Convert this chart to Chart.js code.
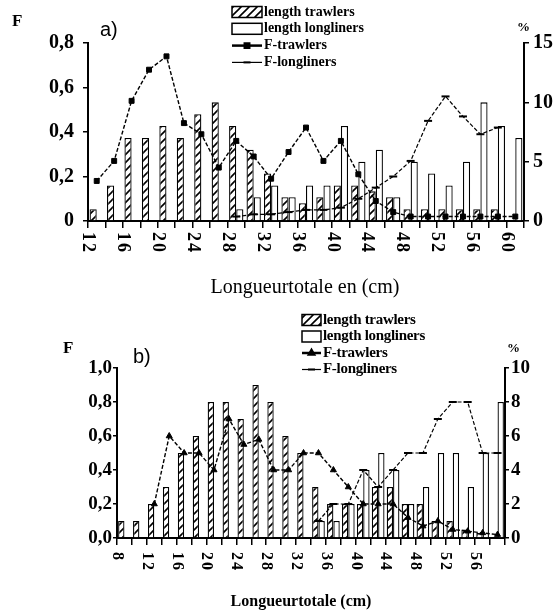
<!DOCTYPE html>
<html>
<head>
<meta charset="utf-8">
<script src="https://cdn.jsdelivr.net/npm/chart.js@4.4.0/dist/chart.umd.min.js"></script>
<style>
  html, body { margin: 0; padding: 0; background: #fff; }
  .wrap { position: absolute; left: 0; width: 557px; }
  #wrapA { top: 0; height: 300px; }
  #wrapB { top: 300px; height: 315px; }
</style>
</head>
<body>
<div class="wrap" id="wrapA"><canvas id="chartA"></canvas></div>
<div class="wrap" id="wrapB"><canvas id="chartB"></canvas></div>
<script>
// ---- a) ----
const lengthsA = [12,14,16,18,20,22,24,26,28,30,32,34,36,38,40,42,44,46,48,50,52,54,56,58,60];
const tickLabelsA = ['12','16','20','24','28','32','36','40','44','48','52','56','60'];
const trawlA = [1,3,7,7,8,7,9,10,8,6,4,2,1.5,2,3,3,2.5,2,1,1,1,1,1,1,0];
const longA  = [0,0,0,0,0,0,0,0,1,2,3,2,3,3,8,5,6,2,5,4,3,5,10,8,7];
const fTrawlA = [0.18,0.27,0.54,0.68,0.74,0.44,0.39,0.24,0.36,0.29,0.19,0.31,0.42,0.27,0.36,0.21,0.09,0.04,0.02,0.02,0.02,0.02,0.02,0.02,0.02];
const fLongA  = [null,null,null,null,null,null,null,null,0.02,0.03,0.03,0.04,0.05,0.05,0.06,0.1,0.15,0.2,0.27,0.45,0.56,0.47,0.39,0.42,null];

// ---- b) ----
const lengthsB = [8,10,12,14,16,18,20,22,24,26,28,30,32,34,36,38,40,42,44,46,48,50,52,54,56,58];
const tickLabelsB = ['8','12','16','20','24','28','32','36','40','44','48','52','56'];
const trawlB = [1,1,2,3,5,6,8,8,7,9,8,6,5,3,2,2,2,3,3,2,2,1,1,0.5,0.3,0];
const longB  = [0,0,0,0,0,0,0,0,0,0,0,0,0,1,1,2,4,5,4,2,3,5,5,3,5,8];
const fTrawlB = [null,null,0.2,0.6,0.5,0.5,0.4,0.7,0.55,0.58,0.4,0.4,0.5,0.5,0.4,0.3,0.2,0.2,0.2,0.12,0.07,0.1,0.05,0.04,0.03,0.02];
const fLongB  = [null,null,null,null,null,null,null,null,null,null,null,null,null,0.1,0.2,0.2,0.4,0.3,0.4,0.5,0.5,0.7,0.8,0.8,0.5,0.5];

const legendNames = ['length trawlers', 'length longliners', 'F-trawlers', 'F-longliners'];
const SERIF = "'Liberation Serif', 'Times New Roman', serif";
const SANS = "'Liberation Sans', Arial, sans-serif";

function hatchFor(canvasId) {
  const c = document.createElement('canvas');
  c.width = 8; c.height = 8;
  const g = c.getContext('2d');
  g.fillStyle = '#fff';
  g.fillRect(0, 0, 8, 8);
  g.strokeStyle = '#000';
  g.lineWidth = 1.6;
  g.beginPath();
  g.moveTo(-1, 9); g.lineTo(9, -1);
  g.moveTo(-1, 1); g.lineTo(1, -1);
  g.moveTo(7, 9); g.lineTo(9, 7);
  g.stroke();
  return document.getElementById(canvasId).getContext('2d').createPattern(c, 'repeat');
}

const extras = {
  id: 'extras',
  afterDraw(chart, args, o) {
    const ctx = chart.ctx;
    const xs = chart.scales.x;
    const area = chart.chartArea;
    const half = (xs.getPixelForValue(1) - xs.getPixelForValue(0)) / 2;
    ctx.save();
    ctx.fillStyle = '#000';
    ctx.strokeStyle = '#000';

    // rotated length labels, sitting on the category boundary
    ctx.font = o.labelFont;
    ctx.letterSpacing = o.labelSpacing;
    ctx.textAlign = 'left';
    ctx.textBaseline = 'middle';
    o.tickLabels.forEach(lbl => {
      const i = o.lengths.indexOf(Number(lbl));
      const px = xs.getPixelForValue(i) - half;
      ctx.save();
      ctx.translate(px, area.bottom + o.labelGap);
      ctx.rotate(Math.PI / 2);
      ctx.fillText(lbl, 0, 0);
      ctx.restore();
    });
    ctx.letterSpacing = '0px';

    // axis title
    ctx.font = o.titleFont;
    ctx.textAlign = 'center';
    ctx.fillText(o.title, o.titleX, o.titleY);

    // corner texts
    ctx.textAlign = 'left';
    ctx.font = o.fFont;
    ctx.fillText('F', o.fX, o.fY);
    ctx.font = o.panelFont;
    ctx.fillText(o.panel, o.panelX, o.panelY);
    ctx.font = o.pctFont;
    ctx.fillText('%', o.pctX, o.pctY);

    // legend
    const L = o.legend;
    ctx.font = L.font;
    ctx.letterSpacing = L.spacing;
    legendNames.forEach((name, k) => {
      const y = L.y + k * L.dy;
      if (k < 2) {
        ctx.fillStyle = k === 0 ? o.hatch : '#fff';
        ctx.fillRect(L.x, y - L.boxH / 2, L.boxW, L.boxH);
        ctx.lineWidth = 1.5;
        ctx.strokeRect(L.x, y - L.boxH / 2, L.boxW, L.boxH);
      } else {
        ctx.lineWidth = k === 2 ? 2.5 : 1.2;
        ctx.beginPath();
        ctx.moveTo(L.x, y);
        ctx.lineTo(L.x + L.boxW, y);
        ctx.stroke();
        ctx.fillStyle = '#000';
        ctx.lineWidth = 2;
        Chart.helpers.drawPoint(ctx, {
          pointStyle: k === 2 ? o.markTrawl : 'line',
          radius: 3.5, rotation: 0, borderWidth: 2
        }, L.x + L.boxW / 2, y);
      }
      ctx.fillStyle = '#000';
      ctx.textAlign = 'left';
      ctx.textBaseline = 'middle';
      ctx.fillText(name, L.x + L.boxW + 2, y);
    });
    ctx.restore();
  }
};

function build(canvasId, d) {
  const hatch = hatchFor(canvasId);
  const labels = d.lengths.map(String);
  return new Chart(document.getElementById(canvasId), {
    data: {
      labels: labels,
      datasets: [
        { type: 'bar', label: legendNames[0], data: d.trawl, yAxisID: 'yR', order: 2,
          backgroundColor: hatch, borderColor: '#000', borderWidth: 1.3,
          categoryPercentage: d.catPct, barPercentage: 1 },
        { type: 'bar', label: legendNames[1], data: d.long, yAxisID: 'yR', order: 2,
          backgroundColor: '#fff', borderColor: '#000', borderWidth: 1.3,
          categoryPercentage: d.catPct, barPercentage: 1 },
        { type: 'line', label: legendNames[2], data: d.fTrawl, yAxisID: 'y', order: 0,
          borderColor: '#000', borderWidth: 1.4, borderDash: [4, 2], fill: false, tension: 0,
          pointStyle: d.markTrawl, pointRadius: 3.5, pointBackgroundColor: '#000',
          pointBorderColor: '#000', pointBorderWidth: 1 },
        { type: 'line', label: legendNames[3], data: d.fLong, yAxisID: 'y', order: 1,
          borderColor: '#000', borderWidth: 1.2, borderDash: [4, 2], fill: false, tension: 0,
          pointStyle: 'line', pointRadius: 4, pointBorderColor: '#000', pointBorderWidth: 2 }
      ]
    },
    options: {
      responsive: true,
      maintainAspectRatio: false,
      animation: false,
      events: [],
      layout: { padding: { top: d.top, left: 0, right: 0, bottom: 0 } },
      plugins: {
        legend: { display: false },
        tooltip: { enabled: false },
        extras: {
          lengths: d.lengths, tickLabels: d.tickLabels, hatch: hatch, markTrawl: d.markTrawl,
          labelFont: d.labelFont, labelSpacing: d.labelSpacing, labelGap: d.labelGap,
          title: d.title, titleFont: d.titleFont, titleX: d.titleX, titleY: d.titleY,
          fFont: d.fFont, fX: d.fX, fY: d.fY,
          panel: d.panel, panelFont: '20px ' + SANS, panelX: d.panelX, panelY: d.panelY,
          pctFont: d.pctFont, pctX: d.pctX, pctY: d.pctY,
          legend: d.legend
        }
      },
      scales: {
        x: {
          type: 'category', offset: true,
          grid: { offset: true, drawOnChartArea: false, color: '#000', lineWidth: 1.5, tickLength: 7 },
          border: { color: '#000', width: 2 },
          ticks: { display: false },
          afterFit: s => { s.height = d.xHeight; }
        },
        y: {
          position: 'left', min: 0, max: d.fMax,
          grid: { drawOnChartArea: false, color: '#000', lineWidth: 1.5, tickLength: d.tickLen },
          border: { color: '#000', width: 2 },
          ticks: { stepSize: 0.2, color: '#000', padding: d.leftPad,
                   font: { family: SERIF, size: d.tickSize, weight: 'bold' },
                   callback: v => d.fFmt(v) },
          afterFit: s => { s.width = d.leftW; }
        },
        yR: {
          position: 'right', min: 0, max: d.pMax,
          grid: { drawOnChartArea: false, color: '#000', lineWidth: 1.5, tickLength: d.tickLen },
          border: { color: '#000', width: 2 },
          ticks: { stepSize: d.pStep, color: '#000', padding: d.rightPad,
                   font: { family: SERIF, size: d.tickSize, weight: 'bold' } },
          afterFit: s => { s.width = d.rightW; }
        }
      }
    },
    plugins: [extras]
  });
}

build('chartA', {
  lengths: lengthsA, tickLabels: tickLabelsA,
  trawl: trawlA, long: longA, fTrawl: fTrawlA, fLong: fLongA,
  catPct: 0.82, markTrawl: 'rect',
  top: 43, xHeight: 79, leftW: 88, rightW: 33,
  fMax: 0.8, pMax: 15, pStep: 5, tickLen: 5, leftPad: 9, rightPad: 4, tickSize: 20,
  fFmt: v => (Math.abs(v) < 1e-9 ? '0' : v.toFixed(1).replace('.', ',')),
  labelFont: 'bold 18px ' + SERIF, labelSpacing: '2px', labelGap: 11,
  title: 'Longueurtotale en (cm)', titleFont: '20px ' + SERIF, titleX: 305, titleY: 288,
  fFont: 'bold 17px ' + SERIF, fX: 12, fY: 22,
  panel: 'a)', panelX: 100, panelY: 30,
  pctFont: 'bold 13px ' + SERIF, pctX: 517, pctY: 28,
  legend: { x: 232, y: 12, dy: 16.8, boxW: 30, boxH: 11, font: 'bold 14px ' + SERIF, spacing: '0px' }
});

build('chartB', {
  lengths: lengthsB, tickLabels: tickLabelsB,
  trawl: trawlB, long: longB, fTrawl: fTrawlB, fLong: fLongB,
  catPct: 0.85, markTrawl: 'triangle',
  top: 68, xHeight: 77, leftW: 117, rightW: 52,
  fMax: 1.0, pMax: 10, pStep: 2, tickLen: 4, leftPad: 1, rightPad: 2, tickSize: 19,
  fFmt: v => v.toFixed(1).replace('.', ','),
  labelFont: 'bold 16px ' + SERIF, labelSpacing: '2px', labelGap: 14,
  title: 'Longueurtotale (cm)', titleFont: 'bold 16px ' + SERIF, titleX: 301, titleY: 302,
  fFont: 'bold 17px ' + SERIF, fX: 63, fY: 49,
  panel: 'b)', panelX: 133, panelY: 57,
  pctFont: 'bold 13px ' + SERIF, pctX: 507, pctY: 49,
  legend: { x: 302, y: 20, dy: 16.5, boxW: 19, boxH: 11, font: 'bold 15px ' + SERIF, spacing: '-0.3px' }
});
</script>
</body>
</html>
